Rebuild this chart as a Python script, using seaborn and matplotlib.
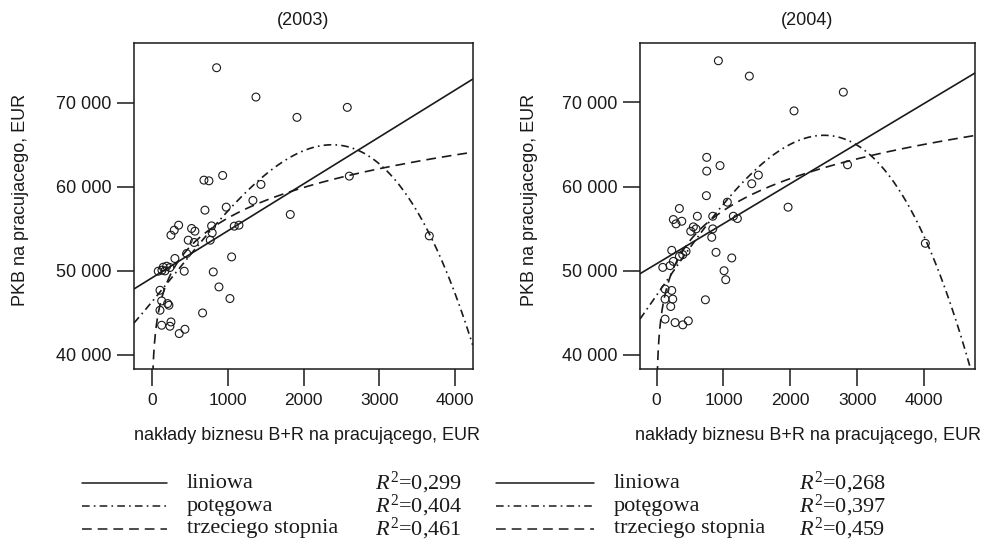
import numpy as np
import pandas as pd
import matplotlib
matplotlib.use("Agg")
import matplotlib.pyplot as plt
import seaborn as sns
from matplotlib.lines import Line2D
from matplotlib.ticker import FuncFormatter

# Business R&D spending per employee (EUR) vs. GDP per employee (EUR)
x_2003 = [853, 1372, 2577, 1913, 933, 686, 752, 1438, 2604, 1332, 980, 699, 1825, 3659,
          352, 294, 251, 523, 567, 787, 795, 769, 1086, 1148, 479, 558, 458, 303,
          83, 149, 194, 237, 172, 132, 426, 1051, 809, 106, 884, 128, 207, 224, 1029,
          106, 668, 128, 251, 237, 360, 435]
y_2003 = [74167, 70679, 69452, 68262, 61357, 60797, 60714, 60286, 61274, 58381, 57583, 57226, 56714, 54167,
          55440, 54845, 54250, 55048, 54726, 55357, 54524, 53655, 55321, 55440, 53655, 53381, 52071, 51476,
          49964, 50440, 50560, 50405, 50000, 50083, 49964, 51667, 49881, 47700, 48095, 46429, 46119, 45917, 46714,
          45321, 44999, 43536, 43929, 43417, 42547, 43060]

x_2004 = [924, 1387, 2792, 2055, 750, 750, 949, 1522, 1423, 2855, 745, 1058, 1966, 4018,
          341, 610, 840, 251, 377, 291, 1148, 1208, 550, 590, 511, 840, 825, 227, 441, 392,
          341, 889, 1124, 251, 93, 202, 1009, 1034, 127, 227, 127, 242, 212, 730, 127, 277, 392, 475]
y_2004 = [74958, 73135, 71228, 69000, 63480, 61847, 62500, 61371, 60346, 62600, 58930, 58153, 57557, 53266,
          57402, 56484, 56484, 56091, 55888, 55578, 56484, 56210, 55220, 54982, 54696, 54982, 53981, 52432, 52313, 51919,
          51717, 52193, 51526, 51120, 50405, 50608, 50012, 48939, 47831, 47664, 46639, 46639, 45757, 46555, 44255, 43850, 43576, 44052]

years = ["(2003)", "(2004)"]
fit_names = ["liniowa", "potęgowa", "trzeciego stopnia"]
r2_2003 = ["0,299", "0,404", "0,461"]
r2_2004 = ["0,268", "0,397", "0,459"]
x_ticks = [0, 1000, 2000, 3000, 4000]
y_ticks = [40000, 50000, 60000, 70000]

x_label = "nakłady biznesu B+R na pracującego, EUR"
y_label = "PKB na pracujacego, EUR"

INK = "#1a1a1a"
DASHED = (7.0, 4.3)
DASHDOT = (5.5, 3.0, 1.2, 3.0)
TICK_LEN = 17 / 100 * 72   # points

sns.set_theme(style="ticks")
plt.rcParams.update({
    "font.family": ["Liberation Sans", "DejaVu Sans"],
    "lines.scale_dashes": False,
    "mathtext.fontset": "custom",
    "mathtext.rm": "Liberation Serif",
    "mathtext.it": "Liberation Serif:italic",
})

fig = plt.figure(figsize=(9.88, 5.5), dpi=100)
fig.patch.set_facecolor("white")
ax1 = fig.add_axes([0.1356, 0.3291, 0.3428, 0.5927])
ax2 = fig.add_axes([0.6478, 0.3291, 0.3391, 0.5927])

panels = [
    (ax1, x_2003, y_2003, years[0], (-237, 4231), (38333, 77107), 0.51),
    (ax2, x_2004, y_2004, years[1], (-247, 4761), (38331, 77068), 0.50),
]

thousands = FuncFormatter(lambda v, _: f"{int(v):,}".replace(",", " "))

for ax, xs, ys, title, xlim, ylim, xl_pos in panels:
    df = pd.DataFrame({"x": xs, "y": ys})
    xv = np.asarray(xs, float)
    yv = np.asarray(ys, float)

    # least-squares fits: linear, power (log-log) and cubic polynomial
    lin = np.polyfit(xv, yv, 1)
    pw = np.polyfit(np.log(xv), np.log(yv), 1)
    cub = np.polyfit(xv, yv, 3)

    grid = np.linspace(xlim[0], xlim[1], 400)
    grid_pos = np.linspace(1, xlim[1], 2000)
    grid_pos = np.concatenate([np.linspace(1, 60, 400), grid_pos[grid_pos > 60]])

    sns.lineplot(x=grid, y=np.polyval(lin, grid), ax=ax, color=INK, lw=1.2,
                 estimator=None, sort=False)
    sns.lineplot(x=grid, y=np.polyval(cub, grid), ax=ax, color=INK, lw=1.2,
                 estimator=None, sort=False)
    ax.lines[-1].set_dashes(DASHDOT)
    sns.lineplot(x=grid_pos, y=np.exp(pw[1]) * grid_pos ** pw[0], ax=ax, color=INK, lw=1.2,
                 estimator=None, sort=False)
    ax.lines[-1].set_dashes(DASHED)

    sns.scatterplot(data=df, x="x", y="y", ax=ax, s=32, facecolor="none",
                    edgecolor=INK, linewidth=0.8, zorder=5)

    ax.set_xlim(*xlim)
    ax.set_ylim(*ylim)
    ax.set_xticks(x_ticks)
    ax.set_yticks(y_ticks)
    ax.yaxis.set_major_formatter(thousands)
    ax.tick_params(axis="both", labelcolor=INK, length=0)
    ax.tick_params(axis="x", labelsize=12.5, pad=TICK_LEN + 5)
    ax.tick_params(axis="y", labelsize=13, pad=TICK_LEN + 4)

    # outward tick marks drawn as short segments in axes/data blended coordinates
    xt_tr = ax.get_xaxis_transform()
    yt_tr = ax.get_yaxis_transform()
    for xv_t in x_ticks:
        ax.add_line(Line2D([xv_t, xv_t], [0, -17 / 326], transform=xt_tr, color=INK,
                           lw=1.1, clip_on=False, solid_capstyle="butt"))
    for yv_t in y_ticks:
        ax.add_line(Line2D([0, -17 / 338], [yv_t, yv_t], transform=yt_tr, color=INK,
                           lw=1.1, clip_on=False, solid_capstyle="butt"))

    for sp in ax.spines.values():
        sp.set_visible(True)
        sp.set_color(INK)
        sp.set_linewidth(1.1)

    ax.set_title(title, fontsize=13, color=INK, pad=13)
    ax.set_xlabel(x_label, fontsize=13, color=INK)
    ax.xaxis.set_label_coords(xl_pos, -0.205)
    ax.xaxis.label.set_va("center")
    ax.set_ylabel(y_label, fontsize=13, color=INK)
    ax.grid(False)

ax1.yaxis.set_label_coords(-0.335, 0.52)
ax2.yaxis.set_label_coords(-0.33, 0.52)
ax1.yaxis.label.set_va("center")
ax2.yaxis.label.set_va("center")

# legend keys below each panel
row_y = [1 - 483 / 550, 1 - 506 / 550, 1 - 528.5 / 550]
key_styles = [None, DASHDOT, DASHED]
blocks = [
    (82 / 988, 167 / 988, 187 / 988, 375 / 988, r2_2003),
    (496 / 988, 594 / 988, 614 / 988, 799 / 988, r2_2004),
]
for x0, x1, xt, xr, r2s in blocks:
    for yy, name, dash, r2 in zip(row_y, fit_names, key_styles, r2s):
        ln = Line2D([x0, x1], [yy, yy], transform=fig.transFigure, color=INK, lw=1.1)
        if dash is not None:
            ln.set_dashes(dash)
        fig.add_artist(ln)
        fig.text(xt, yy, name, family="Liberation Serif", fontsize=16, color=INK,
                 va="center", ha="left")
        fig.text(xr, yy, r"$R^2$=" + r2, family="Liberation Serif", fontsize=16,
                 color=INK, va="center", ha="left")

fig.savefig("out.png", dpi=100, facecolor="white")
